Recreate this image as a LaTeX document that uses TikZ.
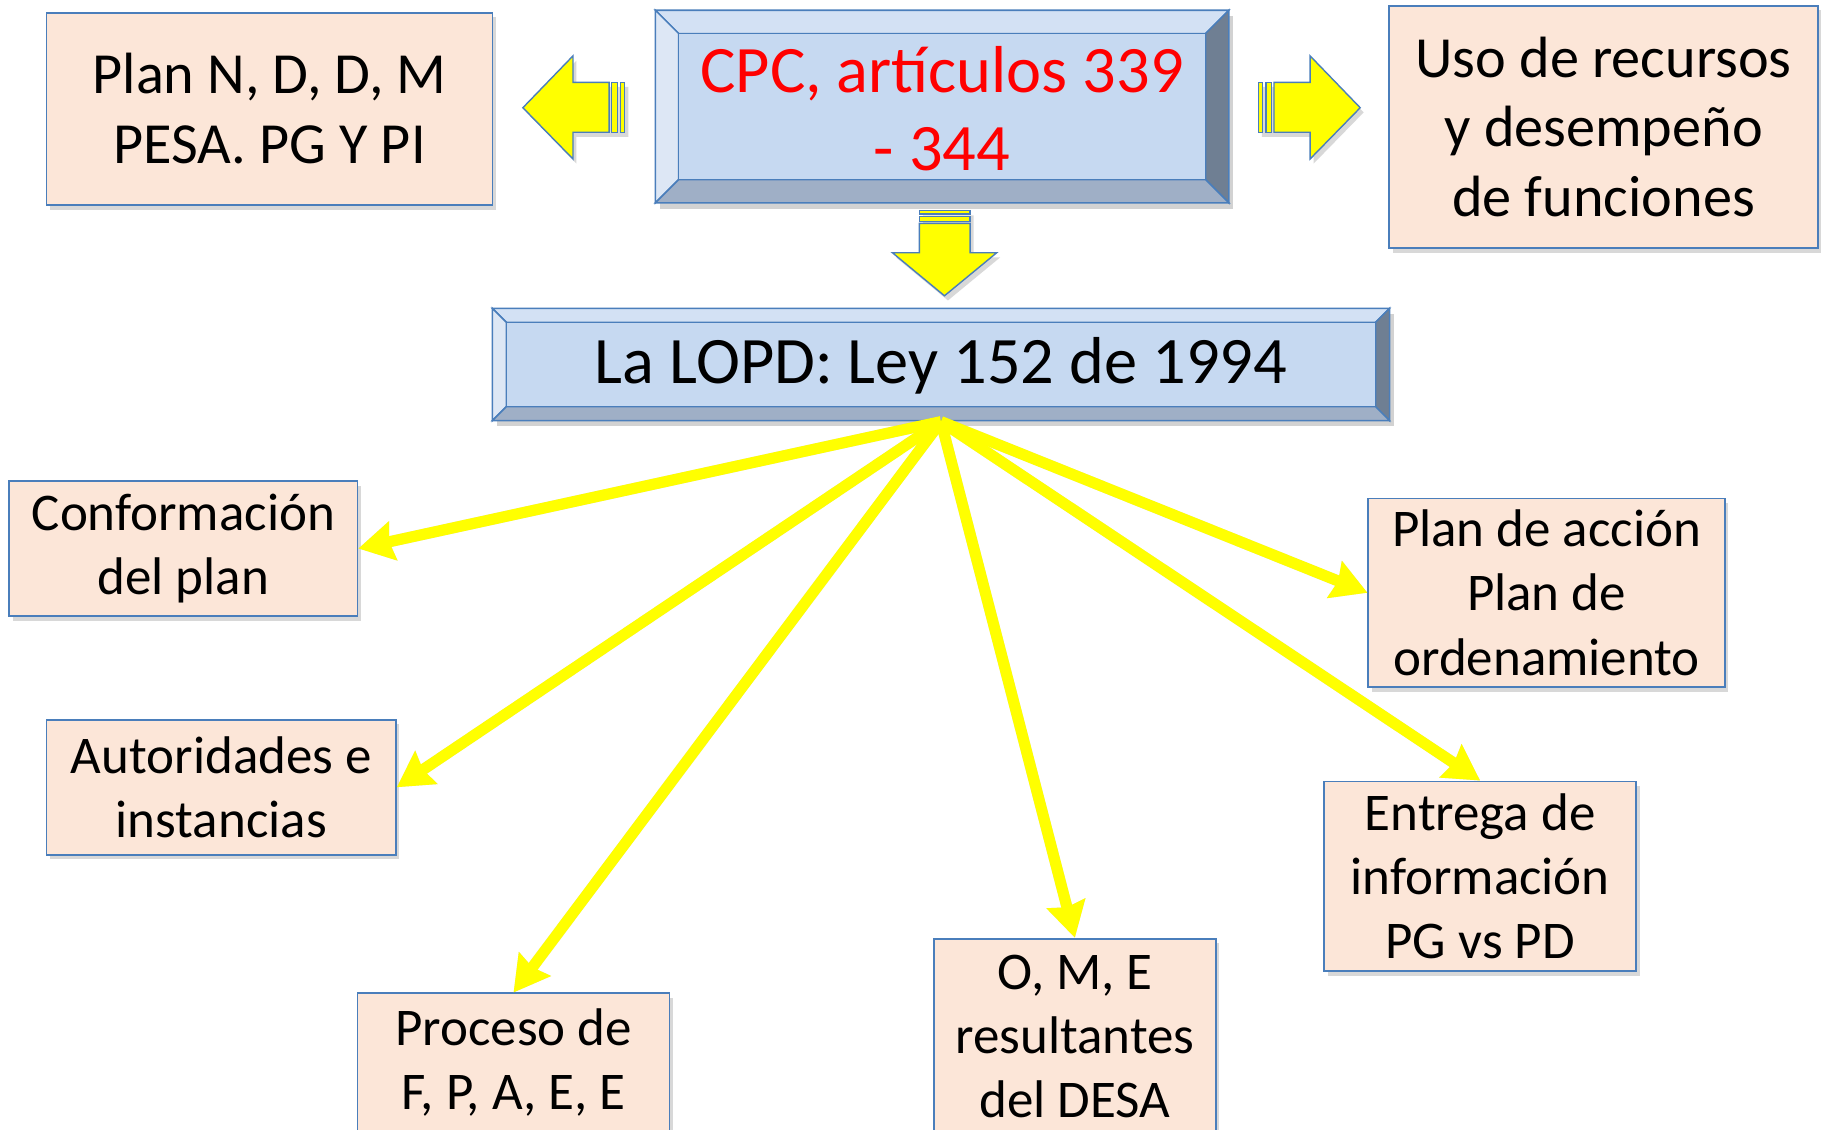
\documentclass[tikz,border=0pt]{standalone}
\usepackage{fontspec}
\setmainfont{Carlito}
\usetikzlibrary{arrows.meta,calc,shadows}
\definecolor{peach}{HTML}{FCE6D8}
\definecolor{edgeblue}{HTML}{4A7EBB}
\definecolor{bface}{HTML}{C6D9F1}
\definecolor{btop}{HTML}{D3E1F4}
\definecolor{bleft}{HTML}{DDE7F5}
\definecolor{bright}{HTML}{6F7F93}
\definecolor{bbottom}{HTML}{9FAFC6}
\definecolor{ylw}{HTML}{FFFF00}
\newcommand\bevelshape[2]{%
  \fill[gray,opacity=0.35] ($(#1.north west)+(4,5)$) rectangle ($(#1.south east)+(4,5)$);
  \coordinate (#1-a) at (#1.north west);
  \coordinate (#1-b) at (#1.north east);
  \coordinate (#1-c) at (#1.south east);
  \coordinate (#1-d) at (#1.south west);
  \coordinate (#1-A) at ($(#1.north west)+(#2,#2)$);
  \coordinate (#1-B) at ($(#1.north east)+(-#2,#2)$);
  \coordinate (#1-C) at ($(#1.south east)+(-#2,-#2)$);
  \coordinate (#1-D) at ($(#1.south west)+(#2,-#2)$);
  \filldraw[bevelline,fill=btop] (#1-a) -- (#1-b) -- (#1-B) -- (#1-A) -- cycle;
  \filldraw[bevelline,fill=bleft] (#1-a) -- (#1-A) -- (#1-D) -- (#1-d) -- cycle;
  \filldraw[bevelline,fill=bright] (#1-b) -- (#1-c) -- (#1-C) -- (#1-B) -- cycle;
  \filldraw[bevelline,fill=bbottom] (#1-d) -- (#1-D) -- (#1-C) -- (#1-c) -- cycle;
  \filldraw[bevelline,fill=bface] (#1-A) rectangle (#1-C);
}
\tikzset{
  bevelline/.style={draw=edgeblue,line width=1.3pt,line join=miter},
  peachbox/.style={draw=edgeblue,fill=peach,line width=1.5pt,inner sep=0pt,align=center,
    drop shadow={shadow xshift=3pt,shadow yshift=-4pt,opacity=0.3,fill=gray}},
  smalltext/.style={font=\fontsize{45.5}{55}\selectfont},
  bigtext/.style={font=\fontsize{50}{60}\selectfont},
  blockarrow/.style={draw=edgeblue,fill=ylw,line width=1.2pt,line join=miter},
  link/.style={draw=ylw,line width=9.5pt,-{Stealth[length=30pt,width=33pt,inset=3pt]}},
  linkshadow/.style={draw=gray,opacity=0.22,line width=9.5pt,-{Stealth[length=30pt,width=33pt,inset=3pt]},shift={(2,3)}}
}
\begin{document}
\begin{tikzpicture}[x=1pt,y=-1pt]
\useasboundingbox (0,0) rectangle (1568,969.48);
\fill[white] (0,0) rectangle (1568,969.48);

% top boxes
\node[peachbox,bigtext,minimum width=383pt,minimum height=165pt] (plann) at (231.5,93.5) {Plan N, D, D, M\\PESA. PG Y PI};
\node[peachbox,bigtext,minimum width=368pt,minimum height=208pt] (uso) at (1377,109) {Uso de recursos\\y desempeño\\de funciones};

% CPC bevel box
\node[minimum width=492pt,minimum height=165pt,inner sep=0pt] (cpcbox) at (809,91.5) {};
\bevelshape{cpcbox}{20}
\node[text=red,align=center,font=\fontsize{57}{67}\selectfont] (cpc) at (809,93) {CPC, artículos 339\\- 344};

% LOPD bevel box
\node[minimum width=770pt,minimum height=96pt,inner sep=0pt] (lopdbox) at (808,313) {};
\bevelshape{lopdbox}{12}
\node[font=\fontsize{57}{67}\selectfont] (lopd) at (808,314) {La LOPD: Ley 152 de 1994};

% block arrows
\begin{scope}
\fill[gray,opacity=0.3,shift={(3,4)}] (449,92.5) -- (492,48) -- (492,70.7) -- (536.5,70.7) -- (536.5,113.6) -- (492,113.6) -- (492,136.5) -- cycle;
\filldraw[blockarrow] (449,92.5) -- (492,48) -- (492,70.7) -- (523,70.7) -- (523,113.6) -- (492,113.6) -- (492,136.5) -- cycle;
\filldraw[blockarrow] (525,70.7) rectangle (530,113.6);
\filldraw[blockarrow] (533,70.7) rectangle (536.5,113.6);

\fill[gray,opacity=0.3,shift={(3,4)}] (1168,92.5) -- (1125,48) -- (1125,70.7) -- (1080.5,70.7) -- (1080.5,113.6) -- (1125,113.6) -- (1125,136.5) -- cycle;
\filldraw[blockarrow] (1168,92.5) -- (1125,48) -- (1125,70.7) -- (1094,70.7) -- (1094,113.6) -- (1125,113.6) -- (1125,136.5) -- cycle;
\filldraw[blockarrow] (1087,70.7) rectangle (1092,113.6);
\filldraw[blockarrow] (1080.5,70.7) rectangle (1084,113.6);

\fill[gray,opacity=0.3,shift={(3,4)}] (811,254) -- (766.3,217) -- (789.5,217) -- (789.5,181) -- (833,181) -- (833,217) -- (855.9,217) -- cycle;
\filldraw[blockarrow] (811,254) -- (766.3,217) -- (789.5,217) -- (789.5,191.8) -- (833,191.8) -- (833,217) -- (855.9,217) -- cycle;
\filldraw[blockarrow] (789.5,186) rectangle (833,190.4);
\filldraw[blockarrow] (789.5,181) rectangle (833,183.8);
\end{scope}

% lower boxes
\node[peachbox,smalltext,minimum width=299pt,minimum height=116pt] (conf) at (157.5,471) {Conformación\\del plan};
\node[peachbox,smalltext,minimum width=300pt,minimum height=116pt] (auto) at (190,676) {Autoridades e\\instancias};
\node[peachbox,smalltext,minimum width=268pt,minimum height=118pt] (proc) at (441,912) {Proceso de\\F, P, A, E, E};
\node[peachbox,smalltext,minimum width=242pt,minimum height=168pt] (ome) at (923,890) {O, M, E\\resultantes\\del DESA};
\node[peachbox,smalltext,minimum width=268pt,minimum height=163pt] (entr) at (1271,752.5) {Entrega de\\información\\PG vs PD};
\node[peachbox,smalltext,minimum width=306pt,minimum height=162pt] (accion) at (1328,509) {Plan de acción\\Plan de\\ordenamiento};

% connectors
\coordinate (hub) at (808,362);
\foreach \t in {conf.east,auto.east,proc.north,ome.north,entr.north,accion.west}{
  \draw[linkshadow] (hub) -- (\t);
}
\foreach \t in {conf.east,auto.east,proc.north,ome.north,entr.north,accion.west}{
  \draw[link] (hub) -- (\t);
}
\end{tikzpicture}
\end{document}
